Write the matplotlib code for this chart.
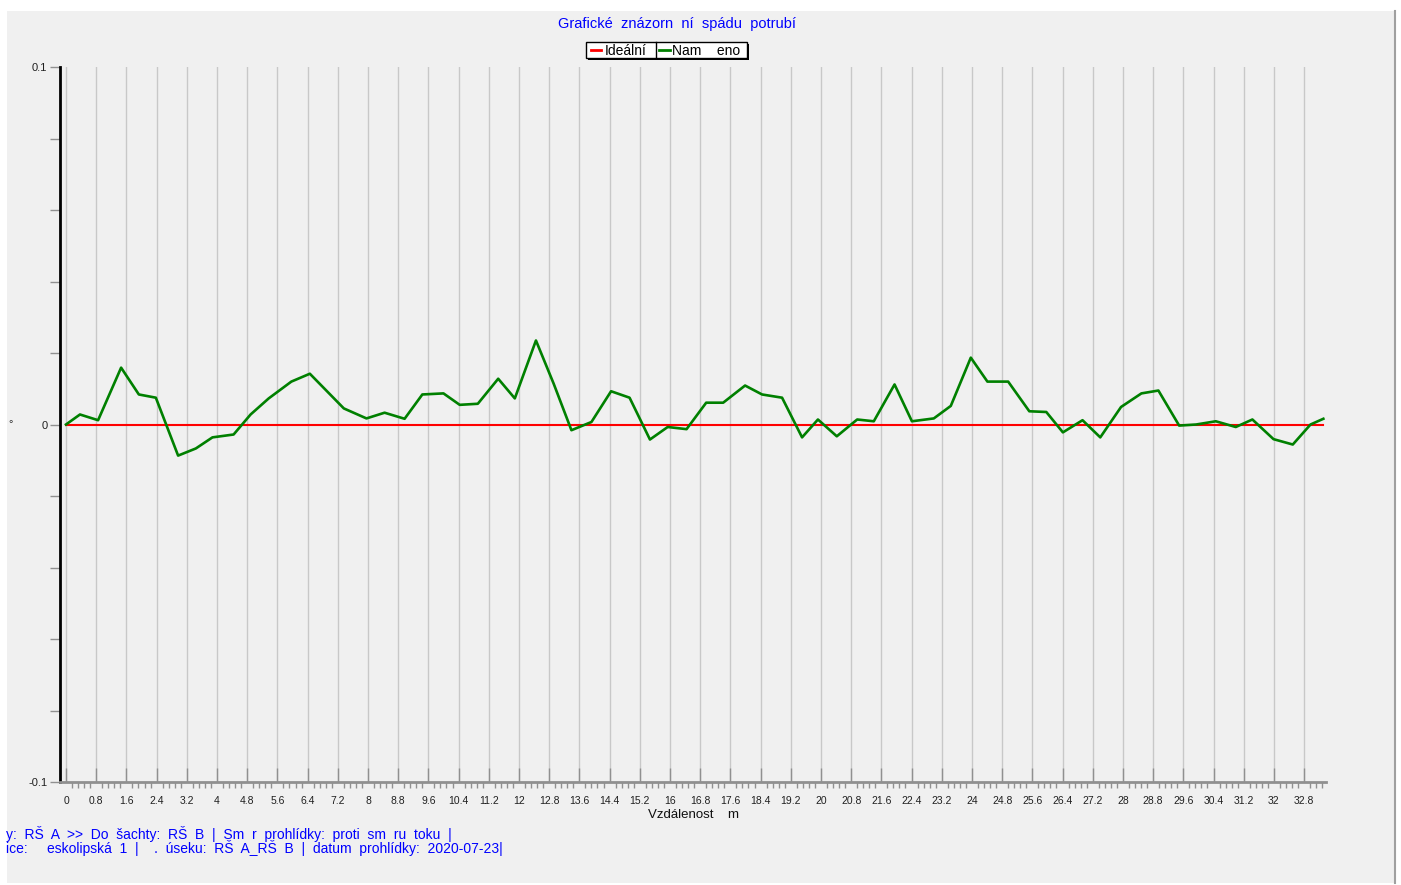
import numpy as np
import matplotlib
matplotlib.use("Agg")
import matplotlib.pyplot as plt
from matplotlib.patches import Rectangle
from matplotlib.lines import Line2D
from matplotlib.ticker import MultipleLocator, FixedLocator

plt.rcParams['font.family'] = ['Liberation Sans', 'DejaVu Sans']

# measured slope along the pipe
x_measured = [0, 0.37, 0.85, 1.46, 1.93, 2.38, 2.97, 3.44, 3.88, 4.44, 4.89,
              5.37, 5.97, 6.46, 7.36, 7.96, 8.44, 8.97, 9.44, 10.0, 10.43,
              10.91, 11.45, 11.89, 12.45, 12.92, 13.39, 13.92, 14.44, 14.93,
              15.47, 15.94, 16.44, 16.96, 17.41, 17.99, 18.44, 18.97, 19.50,
              19.92, 20.42, 20.96, 21.40, 21.95, 22.41, 22.99, 23.44, 23.97,
              24.41, 24.96, 25.52, 25.97, 26.41, 26.93, 27.40, 27.95, 28.49,
              28.94, 29.49, 29.94, 30.46, 30.99, 31.43, 31.99, 32.50, 32.97,
              33.31]
y_measured = [0, 0.0028, 0.0012, 0.0159, 0.0084, 0.0075, -0.0087, -0.0067,
              -0.0036, -0.0028, 0.0028, 0.0073, 0.0120, 0.0142, 0.0045, 0.0017,
              0.0033, 0.0016, 0.0084, 0.0087, 0.0055, 0.0058, 0.0128, 0.0073,
              0.0235, 0.0114, -0.0016, 0.0007, 0.0093, 0.0075, -0.0042, -0.0007,
              -0.0013, 0.0061, 0.0061, 0.0109, 0.0084, 0.0075, -0.0036, 0.0014,
              -0.0033, 0.0014, 0.0009, 0.0112, 0.0009, 0.0017, 0.0052, 0.0187,
              0.0120, 0.0120, 0.0037, 0.0035, -0.0022, 0.0012, -0.0036, 0.0049,
              0.0087, 0.0095, -0.0003, 0.0000, 0.0009, -0.0007, 0.0014, -0.0041,
              -0.0056, 0.0000, 0.0016]
x_ideal = [0, 33.31]
y_ideal = [0, 0]

x_ticks = [round(0.8 * k, 1) for k in range(42)]
y_labels = {-0.1: "-0.1", 0.0: "0", 0.1: "0.1"}

title = "Grafické  znázorn  ní  spádu  potrubí"
xlabel = "Vzdálenost    m"
info1 = "y:  RŠ  A  >>  Do  šachty:  RŠ  B  |  Sm  r  prohlídky:  proti  sm  ru  toku  |"
info2 = "ice:     eskolipská  1  |    .  úseku:  RŠ  A_RŠ  B  |  datum  prohlídky:  2020-07-23|"

W, H = 1401, 885
fig = plt.figure(figsize=(W / 100, H / 100), dpi=100, facecolor="white")


def px(x, y):
    return x / W, 1 - y / H


# gray background panel
x0, y0 = px(7, 883)
x1, y1 = px(1395, 11)
fig.patches.append(Rectangle((x0, y0), x1 - x0, y1 - y0, transform=fig.transFigure,
                             facecolor="#f0f0f0", edgecolor="none", zorder=-2))
fig.lines.append(Line2D([x1, x1], [y0, y1], transform=fig.transFigure,
                        color="#a0a0a0", lw=1.5, zorder=-1))

left, top = px(60, 67)
right, bottom = px(1326, 782)
ax = fig.add_axes([left, bottom, right - left, top - bottom])
ax.set_facecolor("none")

ax.plot(x_ideal, y_ideal, color="#ff0000", lw=1.5, zorder=3)
ax.plot(x_measured, y_measured, color="#008000", lw=1.9, zorder=4)

ax.set_xlim(-0.159, 33.38)
ax.set_ylim(-0.1, 0.1)

ax.xaxis.set_major_locator(FixedLocator(x_ticks))
ax.xaxis.set_minor_locator(MultipleLocator(0.16))
ax.set_xticklabels(["%g" % v for v in x_ticks])
ax.grid(axis="x", which="major", color="#c8c8c8", lw=1)
ax.tick_params(axis="x", which="major", direction="in", length=10, width=1,
               color="#909090", labelsize=7.5, pad=10, labelcolor="#202020")
ax.tick_params(axis="x", which="minor", direction="out", length=4, width=1,
               color="#909090")

ax.yaxis.set_major_locator(MultipleLocator(0.02))
ax.yaxis.set_major_formatter(plt.FuncFormatter(
    lambda v, p: y_labels.get(round(v, 2), "")))
ax.tick_params(axis="y", direction="out", length=7, width=1, color="#909090",
               labelsize=8, labelcolor="#202020", pad=2)

for s in ["top", "right"]:
    ax.spines[s].set_visible(False)
ax.spines["left"].set_color("black")
ax.spines["left"].set_linewidth(2)
ax.spines["bottom"].set_color("#909090")
ax.spines["bottom"].set_linewidth(2)

ax.set_xlabel(xlabel, fontsize=9.5, color="#101010", labelpad=2)
fig.text(*px(8, 424), "°", fontsize=8, ha="left", va="center", color="#303030")

fig.text(*px(677, 24), title, fontsize=10.5, color="#0000ff", ha="center", va="center")
fig.text(*px(6, 834), info1, fontsize=10, color="#0000ff", ha="left", va="center")
fig.text(*px(6, 848), info2, fontsize=10, color="#0000ff", ha="left", va="center")

# legend box with shadow
lx0, ly0 = px(588, 60)
lx1, ly1 = px(749, 44)
fig.patches.append(Rectangle((lx0, ly0), lx1 - lx0, ly1 - ly0, transform=fig.transFigure,
                             facecolor="black", edgecolor="none", zorder=5))
lx0, ly0 = px(586, 58)
lx1, ly1 = px(747, 42)
fig.patches.append(Rectangle((lx0, ly0), lx1 - lx0, ly1 - ly0, transform=fig.transFigure,
                             facecolor="white", edgecolor="black", lw=1, zorder=6))
dx, _ = px(656, 0)
fig.lines.append(Line2D([dx, dx], [ly0, ly1], transform=fig.transFigure,
                        color="black", lw=1, zorder=7))
for (xa, xb, xt, col, lab) in [(591, 601, 605, "#ff0000", "Ideální"),
                               (659, 670, 672, "#008000", "Nam    eno")]:
    a, yy = px(xa, 50)
    b, _ = px(xb, 50)
    fig.lines.append(Line2D([a, b], [yy, yy], transform=fig.transFigure,
                            color=col, lw=2, zorder=7))
    fig.text(*px(xt, 51), lab, fontsize=10, color="black", ha="left", va="center",
             zorder=8)

fig.savefig("out.png", dpi=100, facecolor=fig.get_facecolor())
